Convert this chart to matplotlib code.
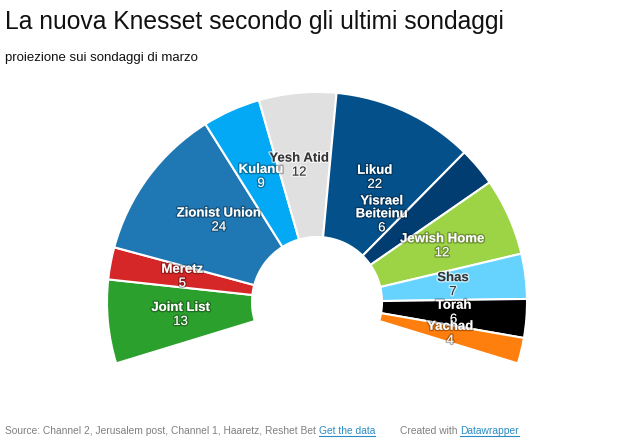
import numpy as np
import matplotlib
matplotlib.use('Agg')
import matplotlib.pyplot as plt
from matplotlib.patches import Wedge
import matplotlib.patheffects as pe

plt.rcParams['font.family'] = ['Liberation Sans', 'DejaVu Sans']

# seats per party, left to right around the arc
parties = ['Joint List', 'Meretz', 'Zionist Union', 'Kulanu', 'Yesh Atid', 'Likud',
           'Yisrael\nBeiteinu', 'Jewish Home', 'Shas', 'Torah', 'Yachad']
seats = [13, 5, 24, 9, 12, 22, 6, 12, 7, 6, 4]
colors = ['#2ca02c', '#d62728', '#1f77b4', '#03a9f4', '#e0e0e0', '#03508a',
          '#013d70', '#9dd445', '#66d3ff', '#000000', '#ff7f0e']
dark_text = ['Yesh Atid', 'Shas']

title = 'La nuova Knesset secondo gli ultimi sondaggi'
subtitle = 'proiezione sui sondaggi di marzo'
source = 'Source: Channel 2, Jerusalem post, Channel 1, Haaretz, Reshet Bet '
credit = 'Created with '

# layout (pixels)
W, H = 630, 441
cx, cy = 317, H - 302
r_out, r_in = 210, 65
start_deg, end_deg = 197, -17
label_r = 137
nudge = {'Yisrael\nBeiteinu': (-40, 0), 'Zionist Union': (12, 0), 'Yesh Atid': (-5, 0)}

fig = plt.figure(figsize=(W / 100, H / 100), dpi=100)
ax = fig.add_axes([0, 0, 1, 1])
ax.set_xlim(0, W)
ax.set_ylim(0, H)
ax.set_aspect('equal')
ax.axis('off')

total = sum(seats)
per_seat = (start_deg - end_deg) / total
cum = np.concatenate([[0], np.cumsum(seats)])

for i, name in enumerate(parties):
    a1 = start_deg - cum[i] * per_seat
    a2 = start_deg - cum[i + 1] * per_seat
    ax.add_patch(Wedge((cx, cy), r_out, a2, a1, width=r_out - r_in,
                       facecolor=colors[i], edgecolor='white', linewidth=1.5))

for i, name in enumerate(parties):
    mid = np.radians(start_deg - (cum[i] + seats[i] / 2) * per_seat)
    x = cx + label_r * np.cos(mid)
    y = cy + label_r * np.sin(mid)
    dx, dy = nudge.get(name, (0, 0))
    x += dx
    y += dy
    if name in dark_text:
        col = '#333333'
        halo = [pe.withStroke(linewidth=2, foreground=(1, 1, 1, 0.6))]
    else:
        col = 'white'
        halo = [pe.withStroke(linewidth=2, foreground=(0, 0, 0, 0.3))]
    shift = 7.5 * name.count('\n')
    ax.text(x, y + 1 - shift, name, ha='center', va='bottom', fontsize=9.5,
            fontweight='bold', color=col, path_effects=halo, linespacing=1.1)
    ax.text(x, y - 1 - shift, str(seats[i]), ha='center', va='top', fontsize=9.5,
            color=col, path_effects=halo)

ax.text(5, H - 29, title, fontsize=17.7, color='#111111', va='baseline', ha='left')
ax.text(5, H - 61, subtitle, fontsize=9.5, color='#111111', va='baseline', ha='left')

fig.canvas.draw()
renderer = fig.canvas.get_renderer()
inv = ax.transData.inverted()


def footer_part(x, text, color, underline=False):
    t = ax.text(x, H - 434, text, fontsize=7.4, color=color, va='baseline', ha='left')
    bb = t.get_window_extent(renderer=renderer)
    (x0, y0), (x1, y1) = inv.transform([[bb.x0, bb.y0], [bb.x1, bb.y1]])
    if underline:
        ax.plot([x0, x1], [H - 436, H - 436], color=color, linewidth=0.8)
    return x1


grey = '#808080'
link = '#2b8cc4'
xe = footer_part(5, source, grey)
footer_part(xe, 'Get the data', link, underline=True)
xe = footer_part(400, credit, grey)
footer_part(xe, 'Datawrapper', link, underline=True)

fig.savefig('out.png', dpi=100)
